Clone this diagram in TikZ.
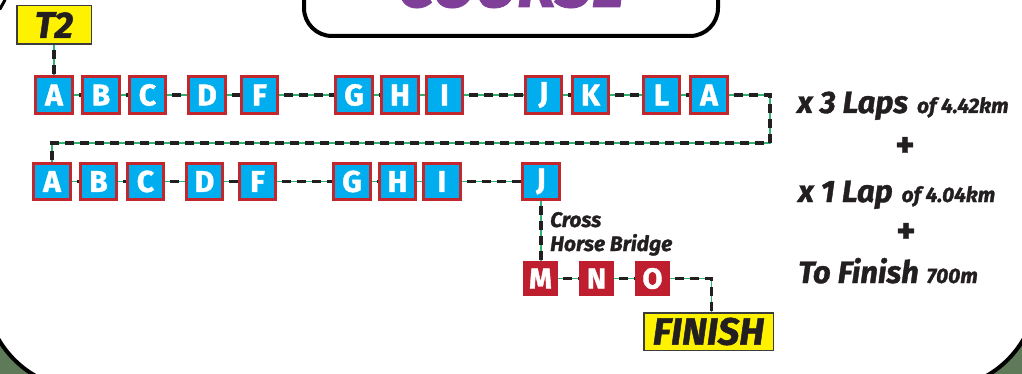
\documentclass[tikz,border=0pt]{standalone}
\usepackage{fontspec}
\setmainfont{Fira Sans}[BoldFeatures={FakeBold=1.3}, BoldItalicFeatures={FakeBold=1.3}]
\definecolor{boxcyan}{HTML}{00AEEF}
\definecolor{boxred}{HTML}{C1272D}
\definecolor{mred}{HTML}{BE1E2D}
\definecolor{yel}{HTML}{FFF200}
\definecolor{ygray}{HTML}{3C3C3C}
\definecolor{routegreen}{HTML}{2DB36F}
\definecolor{routeblack}{HTML}{231F20}
\definecolor{mapgreen}{HTML}{5E7A58}
\definecolor{purp}{HTML}{7F3F98}
\pgfdeclarelayer{bg}
\pgfdeclarelayer{lines}
\pgfsetlayers{bg,lines,main}
\tikzset{
  lbox/.style={draw=boxred, line width=2.6pt, fill=boxcyan, minimum width=36.5pt, minimum height=36.5pt, inner sep=0pt, text=white, font=\fontsize{30}{30}\selectfont\bfseries},
  mbox/.style={fill=mred, minimum width=35pt, minimum height=35pt, inner sep=0pt, text=white, font=\fontsize{29}{29}\selectfont\bfseries},
  ybox/.style={draw=ygray, line width=1.5pt, fill=yel, inner sep=0pt, text=routeblack, font=\bfseries\itshape},
  route/.style={draw=routegreen, line width=1.4pt, postaction={draw=routeblack, line width=3.3pt, dash pattern=on 9pt off 6pt, dash phase=10pt}},
  rtext/.style={inner sep=0pt, text=routeblack, font=\bfseries\itshape},
}
\newcommand{\bigtx}[1]{{\fontsize{31}{31}\selectfont #1}}
\newcommand{\smalltx}[1]{{\fontsize{21}{21}\selectfont #1}}
\begin{document}
\begin{tikzpicture}[x=1pt,y=-1pt]
\useasboundingbox (0,0) rectangle (1022,374);
\begin{pgfonlayer}{bg}
  \fill[mapgreen] (0,0) rectangle (1022,374);
  \draw[line width=4pt, fill=white, rounded corners=100pt] (-15,-250) rectangle (1037,389);
  \draw[line width=3pt, line cap=round] (0,9) -- (5,0);
  \draw[line width=4pt, fill=white, rounded corners=28pt] (304,-80) rectangle (718,36);
  \node[anchor=base, inner sep=0pt, text=purp, font=\fontsize{64}{64}\selectfont\bfseries\itshape] (course) at (511,7) {COURSE};
\end{pgfonlayer}

% start
\node[ybox, minimum width=74.5pt, minimum height=38.5pt, font=\fontsize{37}{37}\selectfont\bfseries\itshape] (t2) at (54,25) {T2};

% row 1
\node[lbox] (a1) at (54,95) {A};
\node[lbox] (b1) at (101,95) {B};
\node[lbox] (c1) at (147.5,95) {C};
\node[lbox] (d1) at (207,95) {D};
\node[lbox] (f1) at (259.5,95) {F};
\node[lbox] (g1) at (354,95) {G};
\node[lbox] (h1) at (400,95) {H};
\node[lbox] (i1) at (444.5,95) {I};
\node[lbox] (j1) at (543.5,95) {J};
\node[lbox] (k1) at (590.5,95) {K};
\node[lbox] (l1) at (661.5,95) {L};
\node[lbox] (aa1) at (709,95) {A};

% row 2
\node[lbox] (a2) at (52,181.5) {A};
\node[lbox] (b2) at (98.5,181.5) {B};
\node[lbox] (c2) at (145.5,181.5) {C};
\node[lbox] (d2) at (204.5,181.5) {D};
\node[lbox] (f2) at (257.5,181.5) {F};
\node[lbox] (g2) at (352,181.5) {G};
\node[lbox] (h2) at (397.5,181.5) {H};
\node[lbox] (i2) at (442,181.5) {I};
\node[lbox] (j2) at (541,181.5) {J};

% finish leg
\node[mbox] (m) at (540.5,278.5) {M};
\node[mbox] (n) at (596.5,278.5) {N};
\node[mbox] (o) at (652.5,278.5) {O};
\node[ybox, minimum width=129.5pt, minimum height=37.5pt, font=\fontsize{38}{38}\selectfont\bfseries\itshape] (fin) at (708.5,331.5) {FINISH};

\coordinate (turn) at (770,143);

\begin{pgfonlayer}{lines}
  \draw[route] (t2.south) -- (a1.north);
  \foreach \p/\q in {a1/b1,b1/c1,c1/d1,d1/f1,f1/g1,g1/h1,h1/i1,i1/j1,j1/k1,k1/l1,l1/aa1,
                     a2/b2,b2/c2,c2/d2,d2/f2,f2/g2,g2/h2,h2/i2,i2/j2,m/n,n/o}
    {\draw[route] (\p) -- (\q);}
  \draw[route] (aa1.east) -| (turn) -| (a2.north);
  \draw[route] (j2.south) -- (j2.south |- m.north);
  \draw[route] (o.east) -| ([xshift=3pt]fin.north);
\end{pgfonlayer}

% labels
\node[rtext, anchor=base west, font=\fontsize{21}{21}\selectfont\bfseries\itshape] (cross) at (550,227) {Cross};
\node[rtext, anchor=base west, font=\fontsize{21}{21}\selectfont\bfseries\itshape] (horse) at (550,251) {Horse Bridge};

\node[rtext, anchor=base west] (laps3) at (797,113) {\bigtx{x 3 Laps}\hspace{9pt}\smalltx{of 4.42km}};
\node[rtext, font=\fontsize{36}{36}\selectfont\bfseries] (plus1) at (905,147) {+};
\node[rtext, anchor=base west] (lap1) at (798,202) {\bigtx{x 1 Lap}\hspace{9pt}\smalltx{of 4.04km}};
\node[rtext, font=\fontsize{36}{36}\selectfont\bfseries] (plus2) at (906,233) {+};
\node[rtext, anchor=base west] (tofin) at (798,283) {\bigtx{To Finish}\hspace{8pt}\smalltx{700m}};
\end{tikzpicture}
\end{document}
